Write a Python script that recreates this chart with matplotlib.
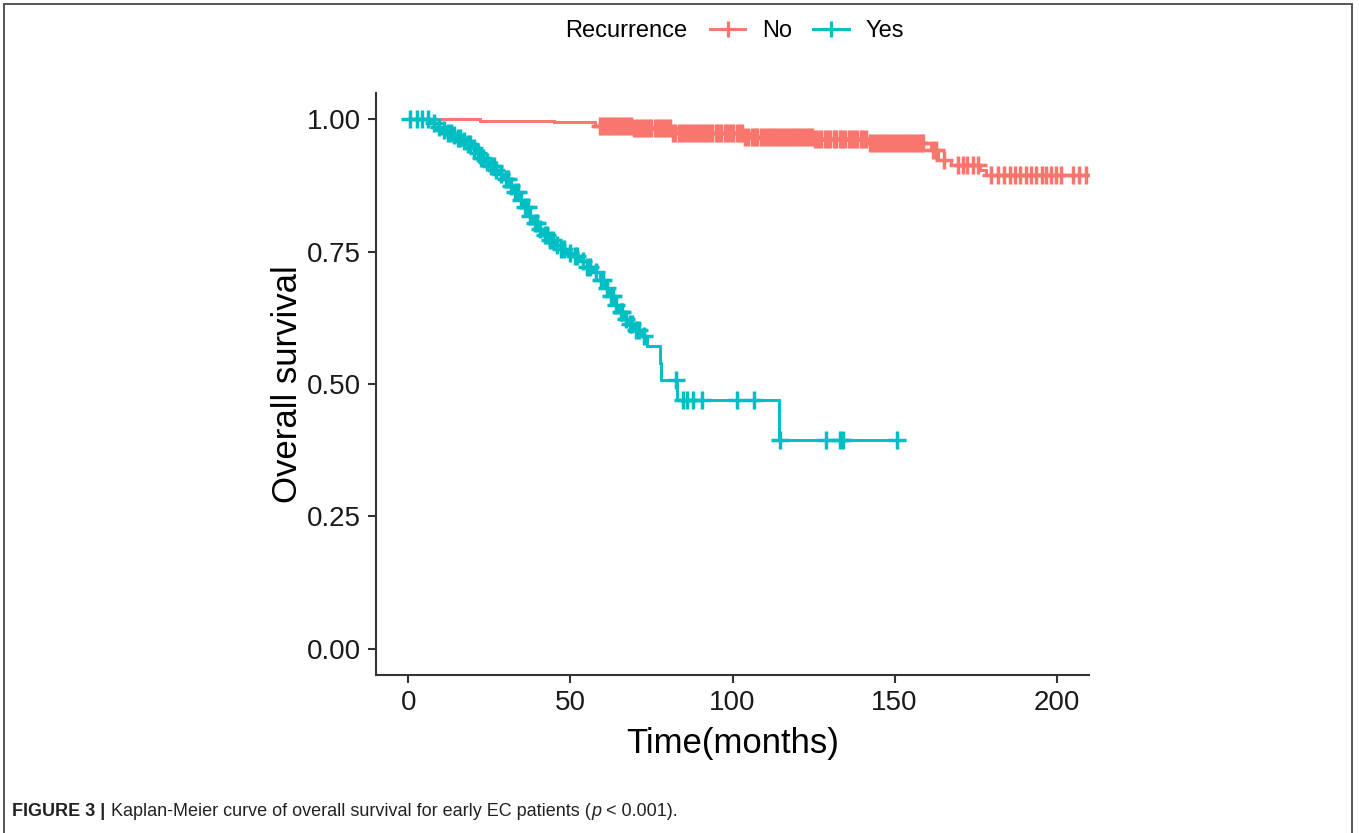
import numpy as np
import matplotlib
matplotlib.use("Agg")
import matplotlib.pyplot as plt
from matplotlib.lines import Line2D
from matplotlib.patches import Rectangle

plt.rcParams['font.family'] = ['Liberation Sans', 'DejaVu Sans']

# ---------------- data ----------------
group_labels = ["No", "Yes"]
legend_title = "Recurrence"
x_ticks = [0, 50, 100, 150, 200]
y_ticks = [0.00, 0.25, 0.50, 0.75, 1.00]
y_tick_labels = ["0.00", "0.25", "0.50", "0.75", "1.00"]

# Recurrence = No : event times and survival after each event
no_times = [22, 45, 57.6, 68.9, 80.7, 103.3, 124.9, 141.9, 161.4, 163.4, 167.5, 176.3, 178.3]
no_surv = [0.998, 0.995, 0.988, 0.983, 0.975, 0.967, 0.963, 0.955, 0.942, 0.923, 0.913, 0.904, 0.895]
no_end = 210.3
no_censor = [59.0, 59.8, 60.6, 61.5, 62.3, 63.2, 64.0, 65.1, 66.0, 66.8, 67.9, 68.7, 69.6, 70.5,
             71.6, 72.4, 73.3, 74.2, 75.0, 76.1, 77.0, 77.8, 78.9, 79.7, 80.6, 81.5, 82.4, 83.6,
             84.5, 85.3, 86.4, 87.2, 88.1, 89.0, 90.1, 91.0, 91.8, 92.9, 93.7, 94.8, 95.6, 96.5,
             97.6, 98.4, 99.3, 100.2, 101.3, 102.1, 103.0, 104.0, 104.9, 106.0, 106.8, 107.7,
             108.8, 109.6, 110.5, 111.6, 112.4, 113.3, 114.4, 115.2, 116.1, 117.0, 118.1, 119.0,
             119.8, 120.9, 121.7, 122.8, 123.6, 124.5, 125.6, 126.4, 127.3, 128.4, 129.2, 130.1,
             131.2, 132.0, 133.1, 133.9, 134.8, 135.9, 136.7, 137.6, 138.5, 139.6, 140.4, 141.3,
             142.4, 143.2, 144.3, 145.1, 146.0, 147.1, 147.9, 148.8, 149.9, 150.7, 151.6, 152.5,
             153.6, 154.4, 155.3, 156.2, 157.3, 158.2, 158.9, 161.8, 162.9, 165.3,
             169.6, 171.1, 172.4, 174.2, 175.9, 179.9, 181.9, 183.7, 185.5, 187.1, 188.6, 190.7,
             192.2, 193.7, 195.5, 196.8, 198.4, 199.9, 201.4, 205.0, 206.9, 209.0]

# Recurrence = Yes
yes_times = [7, 9, 10.5, 12, 13.5, 15, 16.5, 18, 19.5, 21, 22, 23.5, 25, 26.5, 28, 29.5, 31,
             32.5, 34, 35.5, 37, 38.5, 40, 41.5, 43, 45, 47, 49, 51, 53, 55, 57, 59, 60.5,
             62, 63.5, 65, 66.5, 68, 70, 72, 73.5, 77.5, 78, 82.8, 114.3]
yes_surv = [0.993, 0.986, 0.980, 0.975, 0.970, 0.965, 0.960, 0.954, 0.946, 0.937, 0.928,
            0.920, 0.912, 0.905, 0.897, 0.887, 0.875, 0.862, 0.848, 0.834, 0.818, 0.804,
            0.793, 0.782, 0.773, 0.763, 0.755, 0.748, 0.742, 0.733, 0.722, 0.711, 0.697,
            0.682, 0.667, 0.650, 0.636, 0.623, 0.614, 0.603, 0.590, 0.571, 0.540, 0.508,
            0.470, 0.394]
yes_end = 151.5
yes_censor = [0.5, 2.6, 4.3, 6.0, 8.0, 9.5, 11.0, 12.2, 13.0, 14.2, 15.2, 16.0, 17.2, 18.3,
              19.0, 20.2, 21.5, 22.5, 23.0, 24.2, 25.6, 26.3, 27.0, 28.6, 30.0, 30.8, 31.6,
              33.0, 33.8, 34.6, 36.0, 36.8, 37.6, 39.0, 39.8, 40.6, 42.0, 42.8, 43.6, 44.5,
              46.0, 47.2, 48.0, 50.0, 51.3, 52.0, 54.0, 55.2, 56.0, 58.0, 59.4, 60.0, 61.2,
              62.5, 63.0, 64.2, 65.6, 66.0, 67.2, 68.4, 69.0, 70.3, 71.0, 72.6, 82.6, 84.8,
              85.9, 87.9, 90.5, 101.5, 106.6, 114.8, 128.7, 133.1, 134.2, 150.8]

colors = ["#F8766D", "#00BFC4"]

# ---------------- figure ----------------
W, H = 1359, 833
fig = plt.figure(figsize=(W / 100, H / 100), dpi=100)
fig.patch.set_facecolor("white")

# outer frame
fig.add_artist(Rectangle((4 / W, -0.02), (1352 - 4) / W, 1.02 - 4 / H,
                         transform=fig.transFigure, fill=False,
                         edgecolor="#555555", linewidth=1.4))

ax = fig.add_axes([376 / W, 1 - 675 / H, (1089 - 376) / W, (675 - 93) / H])


def km_curve(times, surv, end):
    t = np.concatenate([[0.0], np.asarray(times, float), [end]])
    s = np.concatenate([[1.0], np.asarray(surv, float), [surv[-1]]])
    return t, s


def censor_y(times, surv, cens):
    t = np.concatenate([[0.0], np.asarray(times, float)])
    s = np.concatenate([[1.0], np.asarray(surv, float)])
    idx = np.searchsorted(t, np.asarray(cens, float), side="right") - 1
    return s[idx]


groups = [(no_times, no_surv, no_end, no_censor), (yes_times, yes_surv, yes_end, yes_censor)]
for (tt, ss, end, cc), col in zip(groups, colors):
    t, s = km_curve(tt, ss, end)
    ax.step(t, s, where="post", color=col, linewidth=2.1, solid_joinstyle="miter")
    ax.plot(cc, censor_y(tt, ss, cc), linestyle="none", marker="+", color=col,
            markersize=13, markeredgewidth=2.5)

ax.set_xlim(-10, 210)
ax.set_ylim(-0.05, 1.05)
ax.set_xticks(x_ticks)
ax.set_yticks(y_ticks)
ax.set_yticklabels(y_tick_labels)
for side in ["top", "right"]:
    ax.spines[side].set_visible(False)
for side in ["left", "bottom"]:
    ax.spines[side].set_linewidth(1.5)
    ax.spines[side].set_color("#333333")
ax.tick_params(axis="both", length=6, width=1.5, color="#333333", labelsize=20,
               labelcolor="#1a1a1a", pad=5)
ax.set_xlabel("Time(months)", fontsize=25, labelpad=8)
ax.set_ylabel("Overall survival", fontsize=25, labelpad=2)

# legend on top
fig.text(687 / W, 1 - 31 / H, legend_title, fontsize=17, ha="right", va="center")
handles = [Line2D([], [], color=c, linewidth=2.1, marker="+", markersize=11,
                  markeredgewidth=2.3) for c in colors]
fig.legend(handles, group_labels, loc="center left", bbox_to_anchor=(710 / W, 1 - 31 / H),
           ncol=2, frameon=False, fontsize=17, handlelength=1.5, handletextpad=0.7,
           columnspacing=0.9, borderpad=0, borderaxespad=0)

# caption
fig.canvas.draw()
renderer = fig.canvas.get_renderer()
pieces = [("FIGURE 3 | ", "bold", "normal"),
          ("Kaplan-Meier curve of overall survival for early EC patients (", "normal", "normal"),
          ("p", "normal", "italic"),
          (" < 0.001).", "normal", "normal")]
x = 12
for txt, weight, style in pieces:
    t = fig.text(x / W, 1 - 811 / H, txt, fontsize=13.0, fontweight=weight, fontstyle=style,
                 ha="left", va="center", color="#222222")
    bb = t.get_window_extent(renderer)
    x = bb.x1 + (1 if txt.endswith(" ") else 0)

fig.savefig("out.png", dpi=100, facecolor="white")
